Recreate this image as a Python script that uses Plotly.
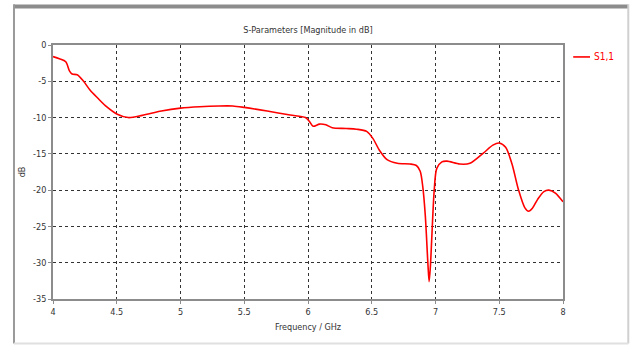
import plotly.graph_objects as go

# S11 reflection magnitude sweep
freq_ghz = [4.00, 4.05, 4.10, 4.13, 4.15, 4.19, 4.24, 4.29, 4.35, 4.42, 4.50, 4.59,
            4.70, 4.85, 5.00, 5.15, 5.30, 5.41, 5.50, 5.68, 5.86, 5.98, 6.01, 6.04,
            6.09, 6.14, 6.19, 6.30, 6.38, 6.46, 6.51, 6.56, 6.62, 6.70, 6.80, 6.85,
            6.88, 6.90, 6.92, 6.94, 6.95, 6.96, 6.97, 6.99, 7.01, 7.05, 7.09, 7.19,
            7.27, 7.375, 7.45, 7.50, 7.55, 7.60, 7.65, 7.70, 7.73, 7.76, 7.80,
            7.85, 7.89, 7.94, 8.00]
s11_db = [-1.6, -1.9, -2.3, -3.6, -4.0, -4.1, -5.0, -6.2, -7.3, -8.5, -9.5, -10.0,
          -9.7, -9.1, -8.7, -8.5, -8.4, -8.4, -8.6, -9.1, -9.65, -10.0, -10.5, -11.2,
          -10.9, -11.0, -11.4, -11.5, -11.6, -11.9, -12.9, -14.5, -15.8, -16.3, -16.4,
          -16.6, -17.4, -19.5, -23.5, -30.0, -32.6, -30.5, -26.9, -20.0, -17.0, -16.1,
          -16.0, -16.4, -16.3, -14.9, -13.8, -13.5, -14.1, -16.4, -19.9, -22.4,
          -22.9, -22.5, -21.3, -20.2, -20.0, -20.4, -21.6]

x_ticks = [4, 4.5, 5, 5.5, 6, 6.5, 7, 7.5, 8]
y_ticks = [0, -5, -10, -15, -20, -25, -30, -35]

FONT = "DejaVu Sans Condensed, Liberation Sans Narrow, sans-serif"
RED = "#ff0000"
TEXT = "#333333"

fig = go.Figure()
fig.add_trace(go.Scatter(
    x=freq_ghz, y=s11_db, mode="lines", name="S1,1",
    line=dict(color=RED, width=1.6, shape="spline", smoothing=0.8),
    showlegend=False,
))

axis_common = dict(
    showgrid=True, gridcolor="#333333", griddash="dot", gridwidth=1,
    zeroline=False, showline=True, linecolor="#8c8c8c", linewidth=1.8,
    mirror=True, ticks="outside", ticklen=3, tickcolor="#8c8c8c",
    tickfont=dict(family=FONT, size=9, color=TEXT),
)

fig.update_xaxes(range=[4, 8], tickvals=x_ticks,
                 ticktext=[f"{v:g}" for v in x_ticks],
                 title=dict(text="Frequency / GHz", standoff=8,
                            font=dict(family=FONT, size=9, color=TEXT)),
                 **axis_common)
fig.update_yaxes(range=[-35, 0], tickvals=y_ticks,
                 ticktext=[f"{v:g}" for v in y_ticks],
                 title=dict(text="dB", standoff=6,
                            font=dict(family=FONT, size=9, color=TEXT)),
                 **axis_common)

# window frame around the chart
frame = [
    dict(x0=-0.0765, x1=1.128, y0=1.152, y1=1.152, color="#8c8c8c", w=4),
    dict(x0=-0.0765, x1=-0.0765, y0=1.16, y1=-0.175, color="#9a9a9a", w=2),
    dict(x0=1.128, x1=1.128, y0=1.16, y1=-0.175, color="#d0d0d0", w=2),
    dict(x0=-0.0765, x1=1.128, y0=-0.175, y1=-0.175, color="#e0e0e0", w=2),
]
shapes = [dict(type="line", xref="paper", yref="paper", x0=f["x0"], x1=f["x1"],
               y0=f["y0"], y1=f["y1"], line=dict(color=f["color"], width=f["w"]))
          for f in frame]

# legend entry
shapes.append(dict(type="line", xref="paper", yref="paper", x0=1.02, x1=1.053,
                   y0=0.953, y1=0.953, line=dict(color=RED, width=1.6)))

fig.update_layout(
    width=634, height=347,
    margin=dict(l=53, r=71, t=45, b=48),
    paper_bgcolor="white", plot_bgcolor="white",
    title=dict(text="S-Parameters [Magnitude in dB]", x=0.5, xanchor="center",
               xref="paper", y=1 - 30 / 347, yanchor="middle",
               font=dict(family=FONT, size=9, color=TEXT)),
    shapes=shapes,
    annotations=[dict(text="S1,1", xref="paper", yref="paper", x=1.057, y=0.953,
                      xanchor="left", yanchor="middle", showarrow=False,
                      font=dict(family=FONT, size=10, color=RED))],
)

fig.write_html("out.html")
